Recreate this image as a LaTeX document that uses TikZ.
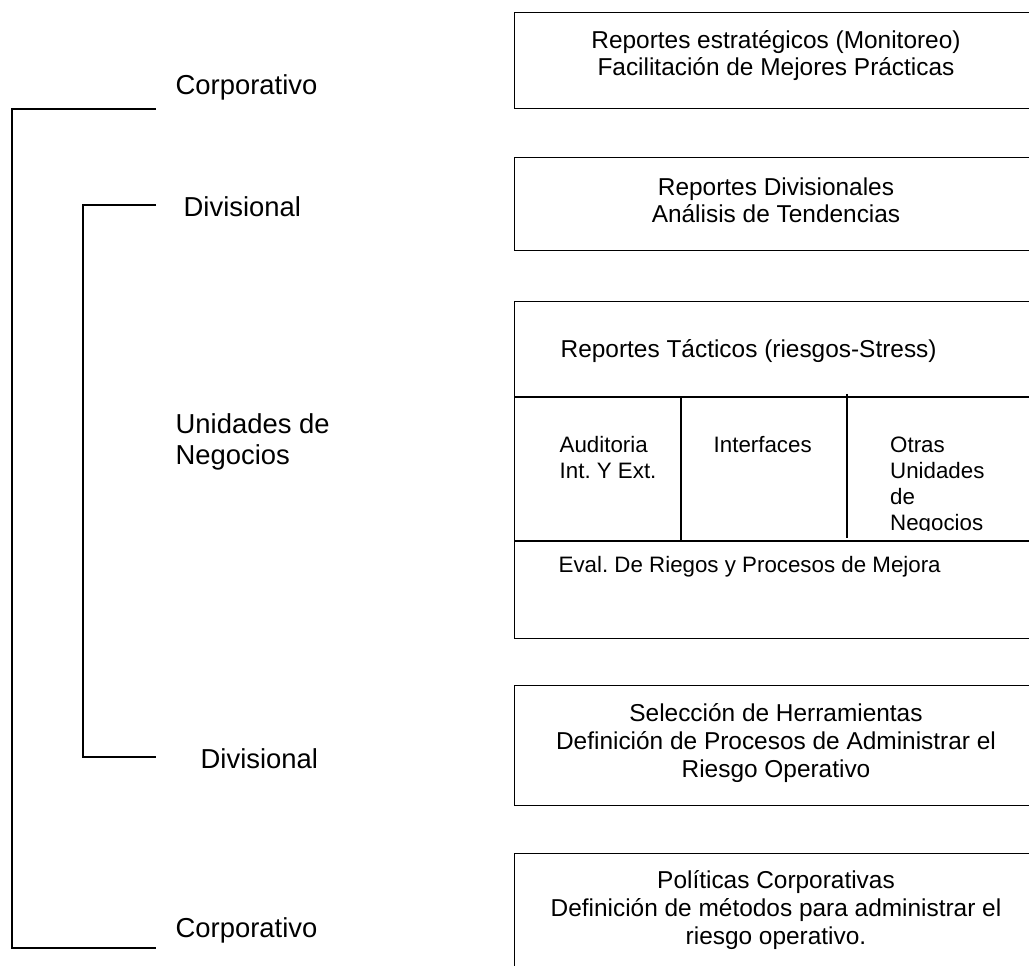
\documentclass[tikz,border=0pt]{standalone}
\usepackage{fontspec}
\setmainfont{Liberation Sans}
\usetikzlibrary{positioning}
\frenchspacing

\begin{document}
\begin{tikzpicture}[x=0.02cm, y=-0.02cm, line width=0.8pt,
	caja/.style={draw, rectangle, anchor=north west, inner sep=0pt, minimum width=10.48cm},
	nivel/.style={anchor=base west, inner sep=0pt, align=left, font=\fontsize{15.6}{18}\selectfont},
	texto/.style={anchor=base, inner sep=0pt, align=center, font=\fontsize{13.9}{15.9}\selectfont},
	celda/.style={anchor=base west, inner sep=0pt, align=left, font=\fontsize{12.7}{14.8}\selectfont}]
	\clip (0,0) rectangle (1029,966);
	
	% niveles
	\node[nivel] (c1) at (175,95) {Corporativo};
	\node[nivel] (d1) at (183,217) {Divisional};
	\node[nivel] (u1) at (175,465) {Unidades de\\Negocios};
	\node[nivel] (d2) at (200,768) {Divisional};
	\node[nivel] (c2) at (175,937) {Corporativo};
	
	\coordinate (a1) at (156,109);
	\coordinate (a2) at (156,948);
	\coordinate (b1) at (156,205);
	\coordinate (b2) at (156,757);
	\draw (a1) -- ++(-144,0) |- (a2);
	\draw (b1) -- ++(-73,0) |- (b2);
	
	% cajas
	\node[caja, minimum height=1.92cm] (r1) at (514,12) {};
	\node[caja, minimum height=1.86cm] (r2) at (514,157) {};
	\node[caja, minimum height=6.74cm] (r3) at (514,301) {};
	\node[caja, minimum height=2.40cm] (r4) at (514,685) {};
	\node[caja, minimum height=2.94cm] (r5) at (514,853) {};
	
	\coordinate (h1) at (514,397);
	\coordinate (h2) at (514,541);
	\coordinate (v1) at (681,397);
	\coordinate (v2) at (847,394);
	\draw (h1) -- (h1 -| r3.east);
	\draw (h2) -- (h2 -| r3.east);
	\draw (v1) -- (v1 |- h2);
	\draw (v2) -- ++(0,144);
	
	\node[texto] (t1) at (776,76) {Reportes estratégicos (Monitoreo)\\Facilitación de Mejores Prácticas};
	\node[texto] (t2) at (776,223) {Reportes Divisionales\\Análisis de Tendencias};
	\node[texto, anchor=base west] (t3) at (560,358) {Reportes Tácticos (riesgos-Stress)};
	\node[celda] (s1) at (559,479) {Auditoria\\Int. Y Ext.};
	\node[celda] (s2) at (713,453) {Interfaces};
	\begin{scope}
		\clip (847,397) rectangle (1038,531);
		\node[celda] (s3) at (889.5,531) {Otras\\Unidades\\de\\Negocios};
	\end{scope}
	\node[celda] (s4) at (558,573) {Eval. De Riegos y Procesos de Mejora};
	\node[texto] (t4) at (776,777) {Selección de Herramientas\\Definición de Procesos de Administrar el\\Riesgo Operativo};
	\node[texto] (t5) at (776,944) {Políticas Corporativas\\Definición de métodos para administrar el\\riesgo operativo.};
\end{tikzpicture}
\end{document}
